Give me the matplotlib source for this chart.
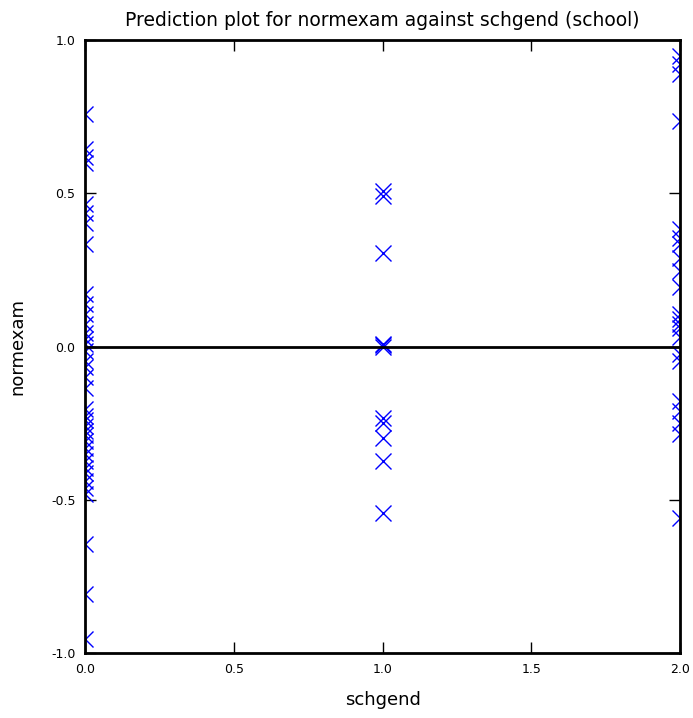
import numpy as np
import matplotlib
matplotlib.use("Agg")
from matplotlib import pyplot as plt

# normexam predictions per school, grouped by schgend
girls_x = 0.0
girls_y = [0.76, 0.646, 0.62, 0.60, 0.467, 0.437, 0.405, 0.336, 0.173, 0.14, 0.108,
           0.075, 0.046, 0.026, 0.01, -0.013, -0.046, -0.068, -0.10, -0.134,
           -0.202, -0.225, -0.241, -0.258, -0.274, -0.29, -0.307, -0.33, -0.349,
           -0.372, -0.395, -0.414, -0.437, -0.46, -0.48, -0.643, -0.806, -0.953]
mixed_x = 1.0
mixed_y = [0.509, 0.493, 0.307, 0.0, 0.005, 0.01, -0.232, -0.25, -0.297, -0.372, -0.542]
boys_x = 2.0
boys_y = [0.95, 0.923, 0.89, 0.737, 0.385, 0.356, 0.336, 0.29, 0.248, 0.193, 0.108,
          0.09, 0.075, 0.06, 0.03, -0.023, -0.046, -0.176, -0.209, -0.25, -0.284, -0.56]

xticks = [0.0, 0.5, 1.0, 1.5, 2.0]
yticks = [-1.0, -0.5, 0.0, 0.5, 1.0]

fig = plt.figure(figsize=(6.93, 7.18), dpi=100)
ax = fig.add_axes([0.123, 0.0905, 0.858, 0.8535])

xs = [girls_x] * len(girls_y) + [mixed_x] * len(mixed_y) + [boys_x] * len(boys_y)
ys = girls_y + mixed_y + boys_y
ax.plot(xs, ys, linestyle='none', marker='x', color='blue', markersize=12, markeredgewidth=1.0)
ax.axhline(0, color='black', linewidth=2)

ax.set_xlim(0, 2)
ax.set_ylim(-1, 1)
ax.set_xticks(xticks)
ax.set_yticks(yticks)
ax.set_xticklabels([f"{t:.1f}" for t in xticks])
ax.set_yticklabels([f"{t:.1f}" for t in yticks])
ax.tick_params(direction='in', top=True, right=True, length=8, width=1, labelsize=9, pad=7)
for s in ax.spines.values():
    s.set_linewidth(2)

ax.set_xlabel("schgend", fontsize=13, labelpad=11)
ax.set_ylabel("normexam", fontsize=13, labelpad=18)
ax.set_title("Prediction plot for normexam against schgend (school)", fontsize=13.5, pad=10)

fig.savefig("out.png", dpi=100)
